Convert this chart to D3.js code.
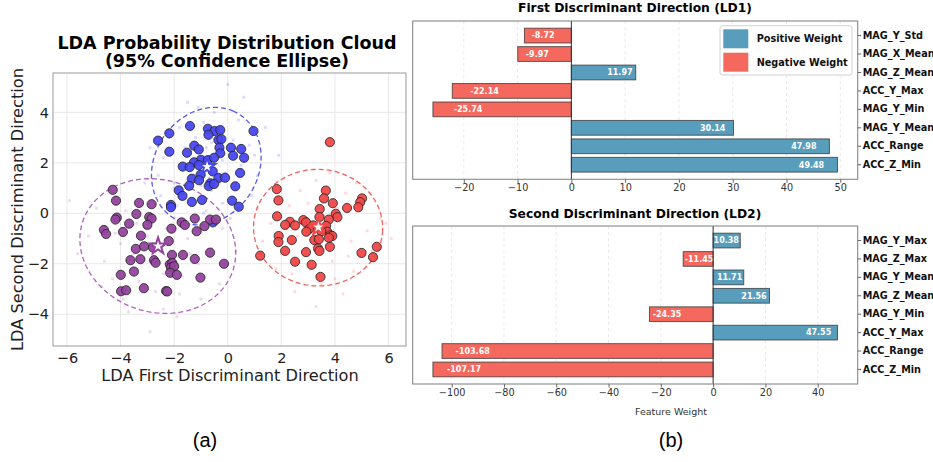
<!DOCTYPE html>
<html>
<head>
<meta charset="utf-8">
<script src="https://cdn.jsdelivr.net/npm/d3@7"></script>
<style>
  body { margin: 0; background: #fff; }
  svg { display: block; font-family: "DejaVu Sans", sans-serif; }
</style>
</head>
<body>
<div id="chart"></div>
<script>
// ---- data: LDA scores per class (LD1, LD2) ----
const bluePoints = [[-1.41,3.46],[-2.18,3.17],[-2.60,2.88],[-0.74,3.35],[-0.49,3.26],[-0.28,3.30],[-0.72,3.11],[0.96,3.26],
  [-0.35,2.90],[-0.24,2.94],[-1.25,2.68],[-1.08,2.53],[-0.31,2.60],[0.12,2.60],[0.50,2.55],[-2.18,2.44],[-1.52,2.40],
  [-0.28,2.38],[0.20,2.28],[0.61,2.20],[-1.00,2.12],[-0.74,2.11],[-0.51,2.20],[-1.26,2.02],[-1.68,1.85],[-1.42,1.83],
  [-1.08,1.91],[-0.56,1.66],[-1.01,1.53],[0.46,1.60],[-1.34,1.37],[-1.07,1.31],[-0.35,1.40],[-0.10,1.41],[-0.65,1.19],
  [-0.71,1.08],[-0.51,1.16],[-1.44,1.09],[0.28,1.07],[-1.83,0.91],[-1.69,0.69],[-1.34,0.45],[-0.96,0.53],[0.16,0.50],
  [0.41,0.26],[-2.12,0.33],[-2.12,0.24],[-0.55,-0.36]];
const purplePoints = [[-4.29,0.93],[-4.17,0.50],[-3.31,0.41],[-2.84,0.36],[-3.41,-0.03],[-4.14,-0.17],[-4.19,-0.25],
  [-2.93,-0.15],[-2.84,-0.21],[-3.68,-0.41],[-3.00,-0.46],[-2.10,-0.61],[-1.72,-0.36],[-1.60,-0.46],[-1.23,-0.21],
  [-0.66,-0.25],[-0.44,-0.25],[-0.87,-0.51],[-1.16,-0.71],[-4.62,-0.66],[-4.54,-0.82],[-3.91,-0.74],[-3.24,-0.89],
  [-2.20,-1.10],[-3.43,-1.41],[-3.12,-1.31],[-2.79,-1.36],[-2.08,-1.65],[-1.67,-1.65],[-1.23,-1.81],[-0.66,-1.56],
  [-0.14,-2.00],[-3.63,-1.86],[-3.26,-1.82],[-2.75,-1.86],[-2.69,-1.96],[-2.16,-2.02],[-2.07,-1.97],[-2.12,-2.15],
  [-2.00,-2.10],[-2.15,-2.36],[-1.90,-2.44],[-1.02,-2.55],[-3.99,-2.44],[-3.50,-2.31],[-3.98,-3.09],[-3.79,-3.05],
  [-3.13,-2.97],[-2.30,-3.08],[-2.26,-3.10]];
const redPoints = [[3.81,2.82],[1.83,0.96],[1.89,0.51],[3.66,0.90],[3.59,0.59],[3.92,0.40],[5.01,0.59],[4.94,0.44],
  [4.87,0.24],[4.45,0.21],[3.43,0.17],[4.03,-0.02],[4.09,-0.15],[1.84,-0.12],[3.42,-0.15],[3.77,-0.25],[2.32,-0.34],
  [2.14,-0.46],[2.51,-0.48],[2.82,-0.27],[2.92,-0.36],[3.19,-0.48],[3.03,-0.63],[2.93,-0.73],[3.67,-0.50],[3.71,-0.73],
  [3.49,-0.71],[3.83,-0.87],[3.90,-0.90],[3.77,-0.97],[1.90,-0.90],[1.89,-1.14],[2.39,-1.06],[3.23,-1.06],[3.40,-1.03],
  [3.81,-1.33],[3.37,-1.40],[3.42,-1.49],[2.14,-1.49],[2.92,-1.54],[1.21,-1.68],[2.51,-1.92],[3.13,-2.04],[3.46,-2.52],
  [4.99,-1.57],[5.56,-1.33],[5.42,-1.74]];

// faint probability cloud (read approximately)
const blueCloud = [[-0.8,1.9],[-0.5,2.3],[-1.2,1.5],[-0.3,1.2],[-1.6,2.6],[0.2,2.9],[-2.0,1.2],[-0.9,3.6],[0.5,1.9],
  [-1.4,0.6],[-0.2,0.4],[-2.4,2.2],[0.8,2.7],[-1.1,4.2],[-0.6,2.8],[-1.8,3.4],[0.4,3.7],[-0.1,1.6],[-1.3,2.1],[-0.7,1.4],
  [-2.6,1.5],[1.1,1.5],[-0.4,3.3],[-1.9,0.3],[0.0,5.1],[0.6,4.6],[-1.5,4.4],[1.4,3.4],[-2.9,2.6],[-0.9,0.0],[0.9,0.7],
  [-1.0,2.4],[-0.2,2.1],[-1.7,1.8],[0.3,1.1],[-0.6,0.9],[-2.2,3.0],[1.0,2.3],[-1.2,3.0],[-0.5,4.0],[0.1,-0.2],[-2.5,0.7],
  [1.9,2.3],[-0.8,2.6],[-1.0,1.1]];
const purpleCloud = [[-2.6,-1.3],[-2.2,-1.7],[-3.0,-0.9],[-2.4,-2.4],[-3.5,-1.6],[-1.5,-1.0],[-4.2,-0.8],[-2.0,-0.2],
  [-3.3,-2.7],[-1.1,-2.0],[-4.6,-1.9],[-2.8,0.4],[-1.8,-3.2],[-3.8,0.1],[-0.6,-1.4],[-5.2,-0.9],[-2.4,-3.8],[-3.9,-3.4],
  [-1.3,0.3],[-4.9,0.2],[-0.3,-2.8],[-2.9,-1.9],[-2.1,-1.1],[-3.4,-0.4],[-1.7,-2.5],[-2.7,-3.1],[-4.3,-2.6],[-5.9,0.5],
  [-2.9,-4.7],[-0.8,0.1],[-3.1,1.2],[-1.9,-4.1],[-4.0,-1.2],[-2.3,-0.6],[-3.6,-2.2],[-1.4,-1.6],[-2.6,-2.0],[-0.2,-0.6],
  [-4.7,-2.9],[-3.2,-1.4],[-1.0,-3.4],[-5.6,-1.6],[-2.0,1.0],[-3.7,-3.9],[0.3,-1.5]];
const redCloud = [[3.4,-0.5],[3.0,-0.2],[3.8,-0.8],[2.6,-0.9],[4.2,-0.3],[3.2,-1.3],[2.3,0.3],[4.6,-1.1],[3.6,0.5],
  [2.0,-1.6],[4.9,0.1],[3.1,-2.2],[1.6,-0.4],[5.2,-0.7],[3.9,-1.9],[2.7,0.9],[4.4,0.8],[1.9,0.6],[3.5,-2.8],[5.7,-0.2],
  [2.4,-2.4],[4.7,-2.3],[3.3,1.3],[1.3,-1.1],[5.9,-0.4],[3.3,-3.7],[2.9,-1.6],[3.7,-1.3],[4.1,0.2],[2.2,-0.6],[4.5,-1.7],
  [3.0,0.4],[3.8,1.6],[2.5,-3.1],[4.0,-2.6],[1.8,-2.2],[5.4,-1.5],[4.8,1.2],[2.8,-0.5],[3.6,-0.1],[6.1,-1.0],[1.1,0.2],
  [4.3,-3.2],[2.1,1.4],[3.4,-1.0]];

// class means and 95% ellipses: [cx, cy, semi-axis a, semi-axis b, angle deg]
const centers = [[-0.77,1.85],[-2.60,-1.30],[3.38,-0.55]];
const ellipses = [[-0.80,1.87,2.40,1.96,65],[-2.61,-1.30,2.97,2.60,-25],[3.37,-0.57,2.41,2.31,-5]];

const scatterTicksX = [-6,-4,-2,0,2,4,6];
const scatterTicksY = [-4,-2,0,2,4];

// feature weights (listed top to bottom)
const ld1Features = ["MAG_Y_Std","MAG_X_Mean","MAG_Z_Mean","ACC_Y_Max","MAG_Y_Min","MAG_Y_Mean","ACC_Range","ACC_Z_Min"];
const ld1Weights  = [-8.72, -9.97, 11.97, -22.14, -25.74, 30.14, 47.98, 49.48];
const ld2Features = ["MAG_Y_Max","MAG_Z_Max","MAG_Y_Mean","MAG_Z_Mean","MAG_Y_Min","ACC_Y_Max","ACC_Range","ACC_Z_Min"];
const ld2Weights  = [10.38, -11.45, 11.71, 21.56, -24.35, 47.55, -103.68, -107.17];
const ld1Ticks = [-20,-10,0,10,20,30,40,50];
const ld2Ticks = [-100,-80,-60,-40,-20,0,20,40];

const colors = ["#4848f0", "#94449e", "#f04848"];
const ellipseColors = ["#5858f0", "#b062c0", "#f06060"];
const posColor = "#589ebc", negColor = "#f5685e";
const minus = d => String(d).replace("-", "\u2212");

const svg = d3.select("#chart").append("svg")
  .attr("width", 933).attr("height", 462);

// ================= (a) scatter =================
const sx = d3.scaleLinear().domain([-6.52, 6.65]).range([53, 406]);
const sy = d3.scaleLinear().domain([-5.26, 5.56]).range([346, 73]);
const leftPanel = svg.append("g");

// grid
leftPanel.selectAll(".gx").data(scatterTicksX).enter().append("line")
  .attr("x1", d => sx(d)).attr("x2", d => sx(d)).attr("y1", 73).attr("y2", 346)
  .attr("stroke", "#e8e8e8");
leftPanel.selectAll(".gy").data(scatterTicksY).enter().append("line")
  .attr("x1", 53).attr("x2", 406).attr("y1", d => sy(d)).attr("y2", d => sy(d))
  .attr("stroke", "#e8e8e8");

// cloud
[blueCloud, purpleCloud, redCloud].forEach((cloud, i) => {
  leftPanel.append("g").selectAll("rect").data(cloud).enter().append("rect")
    .attr("x", d => sx(d[0]) - 1.4).attr("y", d => sy(d[1]) - 1.4)
    .attr("width", 2.8).attr("height", 2.8)
    .attr("fill", colors[i]).attr("opacity", 0.2);
});

// ellipses
const ellLine = d3.line().x(d => sx(d[0])).y(d => sy(d[1]));
ellipses.forEach((e, i) => {
  const th = e[4] * Math.PI / 180;
  const pts = d3.range(0, 361, 3).map(t => {
    const a = t * Math.PI / 180;
    const ux = e[2] * Math.cos(a), uy = e[3] * Math.sin(a);
    return [e[0] + ux * Math.cos(th) - uy * Math.sin(th), e[1] + ux * Math.sin(th) + uy * Math.cos(th)];
  });
  leftPanel.append("path").attr("d", ellLine(pts))
    .attr("fill", "none").attr("stroke", ellipseColors[i])
    .attr("stroke-width", 1.3).attr("stroke-dasharray", "5,3");
});

// samples
[bluePoints, purplePoints, redPoints].forEach((pts, i) => {
  leftPanel.append("g").selectAll("circle").data(pts).enter().append("circle")
    .attr("cx", d => sx(d[0])).attr("cy", d => sy(d[1])).attr("r", 4.6)
    .attr("fill", colors[i]).attr("fill-opacity", 0.95)
    .attr("stroke", "#222").attr("stroke-width", 0.8);
});

// class centres
leftPanel.selectAll(".star").data(centers).enter().append("path")
  .attr("d", d3.symbol(d3.symbolStar).size(85))
  .attr("transform", d => `translate(${sx(d[0])},${sy(d[1])})`)
  .attr("fill", "#fff").attr("stroke", (d, i) => colors[i]).attr("stroke-width", 2);

// frame
leftPanel.append("rect").attr("x", 53).attr("y", 73).attr("width", 353).attr("height", 273)
  .attr("fill", "none").attr("stroke", "#999").attr("stroke-width", 1);

// axes
leftPanel.append("g").attr("transform", "translate(0,346)")
  .call(d3.axisBottom(sx).tickValues(scatterTicksX).tickSize(0).tickPadding(7).tickFormat(minus))
  .call(g => g.select(".domain").remove())
  .selectAll("text").attr("font-size", "14.5px").attr("fill", "#222").attr("font-family", "DejaVu Sans");
leftPanel.append("g").attr("transform", "translate(53,0)")
  .call(d3.axisLeft(sy).tickValues(scatterTicksY).tickSize(0).tickPadding(4).tickFormat(minus))
  .call(g => g.select(".domain").remove())
  .selectAll("text").attr("font-size", "14.5px").attr("fill", "#222").attr("font-family", "DejaVu Sans");

leftPanel.append("text").attr("x", 230).attr("y", 380.7).attr("text-anchor", "middle")
  .attr("font-size", "16.2px").attr("fill", "#222").text("LDA First Discriminant Direction");
leftPanel.append("text").attr("transform", "translate(22.5,209.5) rotate(-90)").attr("text-anchor", "middle")
  .attr("font-size", "16.2px").attr("fill", "#222").text("LDA Second Discriminant Direction");
leftPanel.append("text").attr("x", 227).attr("y", 48.5).attr("text-anchor", "middle")
  .attr("font-size", "17.5px").attr("font-weight", "bold").text("LDA Probability Distribution Cloud");
leftPanel.append("text").attr("x", 227).attr("y", 67).attr("text-anchor", "middle")
  .attr("font-size", "17.5px").attr("font-weight", "bold").text("(95% Confidence Ellipse)");

// ================= (b) bar charts =================
function barPanel(cfg) {
  const g = svg.append("g");
  const x = d3.scaleLinear().domain(cfg.domain).range([412.7, 857.7]);
  const y = d3.scaleBand().domain(cfg.features).range([cfg.top, cfg.bottom])
    .paddingInner(0.2).paddingOuter(0.39);

  // dashed grid
  g.selectAll(".grid").data(cfg.ticks).enter().append("line")
    .attr("x1", d => x(d)).attr("x2", d => x(d)).attr("y1", cfg.top).attr("y2", cfg.bottom)
    .attr("stroke", "#e2e2e2").attr("stroke-dasharray", "3,3").attr("stroke-width", 0.8);

  const data = cfg.features.map((f, i) => ({ f, v: cfg.weights[i] }));
  g.selectAll(".bar").data(data).enter().append("rect")
    .attr("x", d => x(Math.min(0, d.v))).attr("width", d => Math.abs(x(d.v) - x(0)))
    .attr("y", d => y(d.f)).attr("height", y.bandwidth())
    .attr("fill", d => d.v >= 0 ? posColor : negColor)
    .attr("stroke", "#333").attr("stroke-opacity", 0.75).attr("stroke-width", 1);

  g.selectAll(".lbl").data(data).enter().append("text")
    .attr("x", d => x(d.v * (d.v >= 0 ? cfg.posFactor : cfg.negFactor)))
    .attr("y", d => y(d.f) + y.bandwidth() / 2).attr("dy", "0.35em")
    .attr("text-anchor", d => d.v >= 0 ? "end" : "start")
    .attr("font-size", "8px").attr("font-weight", "bold").attr("fill", "#fff")
    .text(d => d.v.toFixed(2));

  // zero line
  g.append("line").attr("x1", x(0)).attr("x2", x(0)).attr("y1", cfg.top).attr("y2", cfg.bottom)
    .attr("stroke", "#333").attr("stroke-width", 1);

  g.append("rect").attr("x", 412.7).attr("y", cfg.top).attr("width", 445).attr("height", cfg.bottom - cfg.top)
    .attr("fill", "none").attr("stroke", "#888").attr("stroke-width", 1.1);

  g.append("g").attr("transform", `translate(0,${cfg.bottom})`)
    .call(d3.axisBottom(x).tickValues(cfg.ticks).tickSize(3.5).tickPadding(1.5).tickFormat(minus))
    .call(a => a.select(".domain").remove())
    .call(a => a.selectAll("line").attr("stroke", "#666"))
    .selectAll("text").attr("font-size", "9.7px").attr("fill", "#333").attr("font-family", "DejaVu Sans");

  g.append("g").attr("transform", "translate(857.7,0)")
    .call(d3.axisRight(y).tickSize(3.5).tickPadding(1.5))
    .call(a => a.select(".domain").remove())
    .call(a => a.selectAll("line").attr("stroke", "#666"))
    .selectAll("text").attr("font-size", "9.7px").attr("font-weight", "bold").attr("fill", "#111")
    .attr("font-family", "DejaVu Sans");

  g.append("text").attr("x", 635).attr("y", cfg.titleY).attr("text-anchor", "middle")
    .attr("font-size", "12.3px").attr("font-weight", "bold").text(cfg.title);
  return g;
}

const topPanel = barPanel({ features: ld1Features, weights: ld1Weights, ticks: ld1Ticks, domain: [-29.5, 53.24],
  top: 21, bottom: 179.3, title: "First Discriminant Direction (LD1)", titleY: 12.3, posFactor: 0.95, negFactor: 0.85 });
barPanel({ features: ld2Features, weights: ld2Weights, ticks: ld2Ticks, domain: [-114.9, 55.29],
  top: 226, bottom: 384, title: "Second Discriminant Direction (LD2)", titleY: 217.7, posFactor: 0.95, negFactor: 0.95 });

svg.append("text").attr("x", 671).attr("y", 415).attr("text-anchor", "middle")
  .attr("font-size", "9.5px").attr("fill", "#333").text("Feature Weight");

// legend
const legend = topPanel.append("g");
legend.append("rect").attr("x", 720).attr("y", 25.7).attr("width", 132).attr("height", 49.3).attr("rx", 2.5)
  .attr("fill", "#fff").attr("fill-opacity", 0.85).attr("stroke", "#d0d0d0");
[["Positive Weight", posColor], ["Negative Weight", negColor]].forEach((d, i) => {
  legend.append("rect").attr("x", 723.3).attr("y", 29.3 + i * 23.4).attr("width", 25).attr("height", 19)
    .attr("fill", d[1]);
  legend.append("text").attr("x", 756.7).attr("y", 38.8 + i * 23.4).attr("dy", "0.35em")
    .attr("font-size", "9.7px").attr("font-weight", "bold").attr("fill", "#111").text(d[0]);
});

// panel captions
svg.append("text").attr("x", 205).attr("y", 447).attr("text-anchor", "middle")
  .attr("font-family", "Liberation Sans, Arial, sans-serif").attr("font-size", "20px").text("(a)");
svg.append("text").attr("x", 671).attr("y", 447).attr("text-anchor", "middle")
  .attr("font-family", "Liberation Sans, Arial, sans-serif").attr("font-size", "20px").text("(b)");
</script>
</body>
</html>
